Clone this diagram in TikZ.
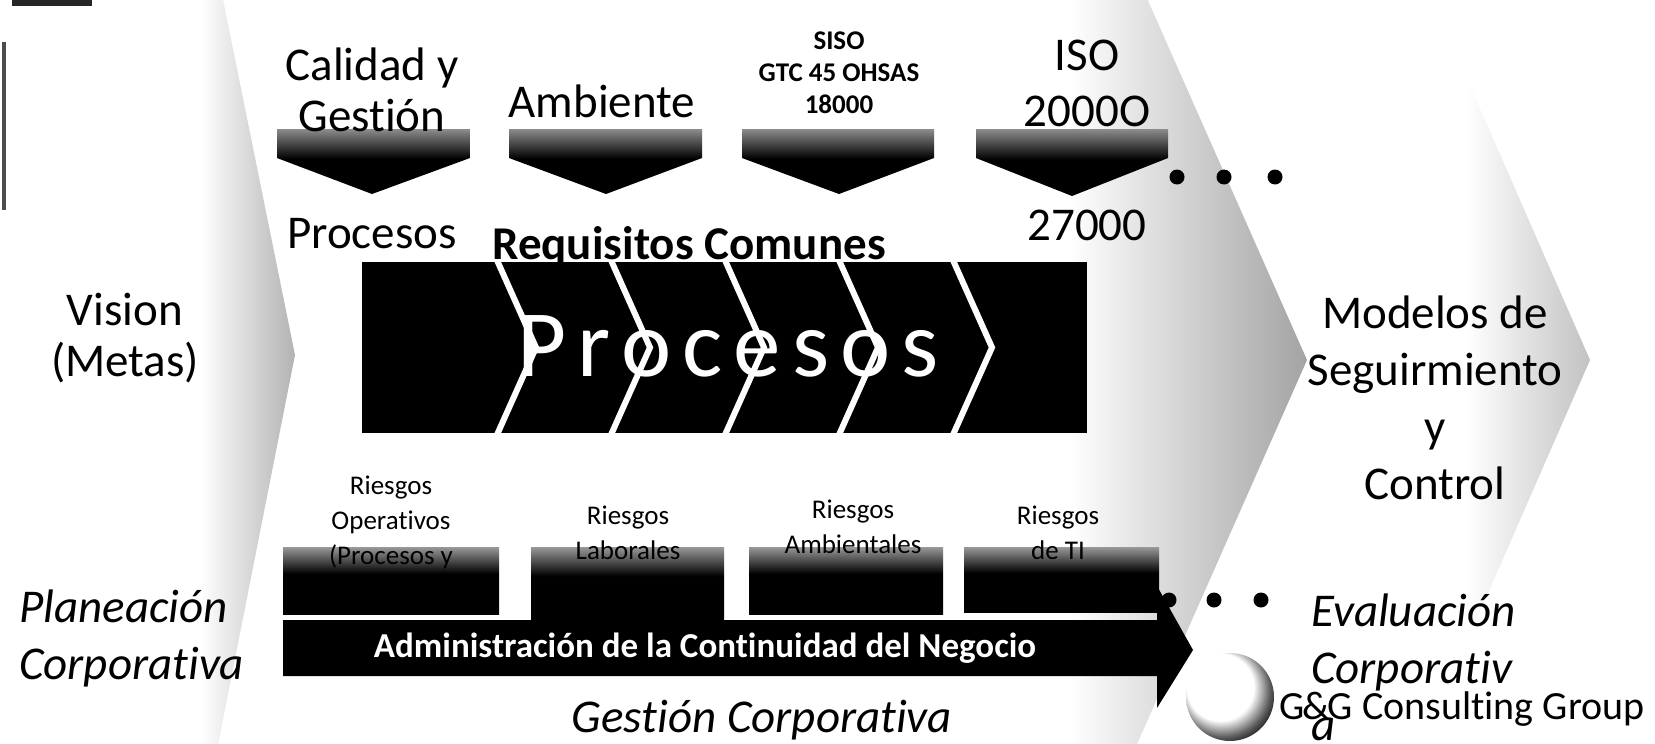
\documentclass[tikz,border=0pt]{standalone}
\usepackage{fontspec}
\setmainfont{Carlito}[Ligatures=NoCommon]
\pgfdeclarehorizontalshading{bgA}{100bp}{color(0bp)=(white); color(25bp)=(white); color(60bp)=(white); color(75bp)=(black!30); color(100bp)=(black!30)}
\pgfdeclarehorizontalshading{bgB}{100bp}{color(0bp)=(white); color(25bp)=(white); color(64bp)=(white); color(75bp)=(black!36); color(100bp)=(black!36)}
\pgfdeclarehorizontalshading{bgC}{100bp}{color(0bp)=(white); color(25bp)=(white); color(61bp)=(white); color(75bp)=(black!24); color(100bp)=(black!24)}
\pgfdeclareverticalshading{darkdown}{100bp}{color(0bp)=(black); color(25bp)=(black); color(52bp)=(black); color(75bp)=(black!45); color(100bp)=(black!45)}
\pgfdeclareverticalshading{darkbox}{100bp}{color(0bp)=(black); color(25bp)=(black); color(55bp)=(black); color(75bp)=(black!40); color(100bp)=(black!40)}
\pgfdeclareradialshading{sphere}{\pgfpoint{-9bp}{9bp}}{color(0bp)=(white); color(19bp)=(white); color(27bp)=(black!65); color(33bp)=(black); color(50bp)=(black)}
\tikzset{
  bigtxt/.style={inner sep=0pt, align=center, font=\fontsize{47}{51}\selectfont},
  bigit/.style={inner sep=0pt, align=left, font=\fontsize{47}{57}\selectfont\itshape},
  smallbold/.style={inner sep=0pt, align=center, font=\fontsize{27}{32}\selectfont\bfseries},
  risktxt/.style={inner sep=0pt, align=center, font=\fontsize{27}{35}\selectfont},
  topchev/.style={shading=darkdown},
  riskbox/.style={shading=darkbox},
  dot/.style={fill=black},
  sepline/.style={draw=white, line width=6pt, line join=miter}
}
\begin{document}
\begin{tikzpicture}[x=1pt,y=-1pt]
\useasboundingbox (0,0) rectangle (1655,744);
% background chevrons
\begin{scope}
\clip (0,0) rectangle (1655,744);
\shade[shading=bgA] (-20,-40) -- (215,-40) -- (295,355) -- (215,760) -- (-20,760) -- cycle;
\shade[shading=bgB] (225,-40) -- (1130,-40) -- (1307,360) -- (1130,760) -- (225,760) -- (305,355) -- cycle;
\shade[shading=bgC] (1150,-40) -- (1415,-40) -- (1590,360) -- (1415,760) -- (1150,760) -- (1327,360) -- cycle;
\end{scope}
% scan marks
\fill[black!85] (12,0) rectangle (92,6);
\draw[black!70, line width=4pt] (4,42) -- (4,210);
% top chevrons
\shade[topchev] (277,129) -- (470,129) -- (470,158) -- (372,194) -- (277,158) -- cycle;
\shade[topchev] (509,129) -- (702,129) -- (702,158) -- (606,194) -- (509,158) -- cycle;
\shade[topchev] (742,129) -- (934,129) -- (934,158) -- (839,194) -- (742,158) -- cycle;
\shade[topchev] (976,129) -- (1168,129) -- (1168,158) -- (1072,196) -- (976,158) -- cycle;
% top texts
\node[bigtxt] (calidad) at (372,90) {Calidad y\\Gestión};
\node[bigtxt] (ambiente) at (602,101) {Ambiente};
\node[smallbold] (siso) at (839,73) {SISO\\GTC 45 OHSAS\\18000};
\node[bigtxt, font=\fontsize{47}{56}\selectfont] (iso) at (1087,83) {ISO\\2000O};
\node[bigtxt] (iso27) at (1087,225) {27000};
\node[bigtxt] (procL) at (372,234) {Procesos};
\node[bigtxt, font=\fontsize{47}{51}\selectfont\bfseries] (requisitos) at (689,247) {Requisitos Comunes};
% dots top
\fill[dot] (1177,177) circle (7.5);
\fill[dot] (1224,177) circle (7.5);
\fill[dot] (1275,177) circle (7.5);
% process bar
\fill[black] (362,262) rectangle (1087,433);
\node[inner sep=0pt, text=white, font=\fontsize{95}{95}\selectfont] (procbar) at (728,346) {P\hspace{11pt}r\hspace{11pt}o\hspace{11pt}c\hspace{11pt}e\hspace{11pt}s\hspace{11pt}o\hspace{11pt}s};
\begin{scope}
\clip (362,262) rectangle (1087,433);
\foreach \sx in {496,610,724,838,952}
  \draw[sepline] (\sx,258) -- (\sx+40,347.5) -- (\sx,437);
\end{scope}
% risk boxes
\shade[riskbox] (283,547) rectangle (499,614);
\shade[riskbox] (531,547) rectangle (724,620);
\shade[riskbox] (749,547) rectangle (943,614);
\shade[riskbox] (964,547) rectangle (1159,612);
\node[risktxt] (r1) at (391,522) {Riesgos\\Operativos\\(Procesos y};
\node[risktxt] (r2) at (628,533) {Riesgos\\Laborales};
\node[risktxt] (r3) at (853,527) {Riesgos\\Ambientales};
\node[risktxt] (r4) at (1058,533) {Riesgos\\de TI};
% big arrow
\fill[black] (283,620) -- (1157,620) -- (1157,586) -- (1193,650) -- (1157,708) -- (1157,676) -- (283,676) -- cycle;
\node[inner sep=0pt, text=white, font=\fontsize{35}{35}\selectfont\bfseries] (admin) at (705,648) {Administración de la Continuidad del Negocio};
% dots bottom
\fill[dot] (1169,600) circle (7.5);
\fill[dot] (1214,600) circle (7.5);
\fill[dot] (1261,600) circle (7.5);
% sphere logo
\shade[shading=sphere] (1230,697) circle (44);
% side texts
\node[bigtxt] (vision) at (125,338) {Vision\\(Metas)};
\node[bigtxt, font=\fontsize{47}{57}\selectfont] (modelos) at (1435,398) {Modelos de\\Seguirmiento\\y\\Control};
\node[bigit, anchor=west] (planeacion) at (19,638) {Planeación\\Corporativa};
\node[bigit, anchor=center, align=center] (gestionC) at (762,720) {Gestión Corporativa};
\node[bigit, anchor=west] (evaluacion) at (1311,667) {Evaluación\\Corporativ\\a};
\node[inner sep=0pt, font=\fontsize{40}{40}\selectfont] (gg) at (1462,709) {G\kern-2pt\&\kern-2pt G Consulting Group};
\end{tikzpicture}
\end{document}
